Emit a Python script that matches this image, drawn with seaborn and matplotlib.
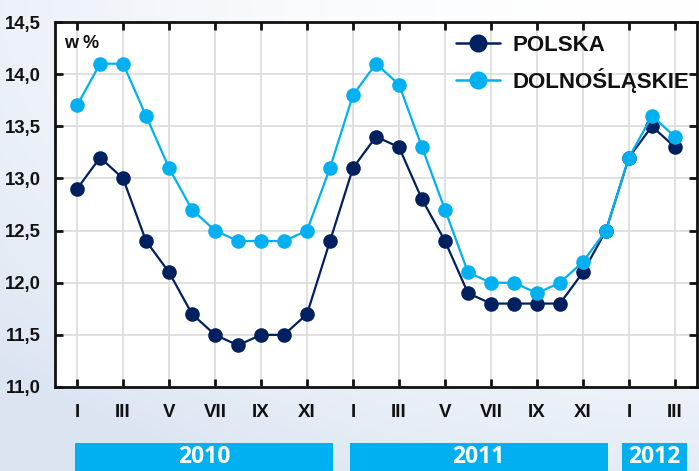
import numpy as np
import pandas as pd
import matplotlib
matplotlib.use("Agg")
import matplotlib.pyplot as plt
import matplotlib.transforms as mtransforms
from matplotlib.patches import Rectangle
from matplotlib.lines import Line2D
import seaborn as sns

# ---- data ----
months = ["I", "II", "III", "IV", "V", "VI", "VII", "VIII", "IX", "X", "XI", "XII"] * 2 + ["I", "II", "III"]
polska = [12.9, 13.2, 13.0, 12.4, 12.1, 11.7, 11.5, 11.4, 11.5, 11.5, 11.7, 12.4,
          13.1, 13.4, 13.3, 12.8, 12.4, 11.9, 11.8, 11.8, 11.8, 11.8, 12.1, 12.5,
          13.2, 13.5, 13.3]
dolnoslaskie = [13.7, 14.1, 14.1, 13.6, 13.1, 12.7, 12.5, 12.4, 12.4, 12.4, 12.5, 13.1,
                13.8, 14.1, 13.9, 13.3, 12.7, 12.1, 12.0, 12.0, 11.9, 12.0, 12.2, 12.5,
                13.2, 13.6, 13.4]
series_names = ["POLSKA", "DOLNOŚLĄSKIE"]
years = ["2010", "2011", "2012"]
y_ticks = [11.0, 11.5, 12.0, 12.5, 13.0, 13.5, 14.0, 14.5]

# layout constants (month-index spans of the year bands)
year_spans = [(-0.09, 11.15), (11.85, 23.08), (23.69, 26.52)]

colors = {"POLSKA": "#002060", "DOLNOŚLĄSKIE": "#00b0f0"}

idx = np.arange(len(months))
df = pd.DataFrame({
    "t": np.concatenate([idx, idx]),
    "value": polska + dolnoslaskie,
    "series": [series_names[0]] * len(idx) + [series_names[1]] * len(idx),
})

sns.set_theme(style="white")
plt.rcParams["font.family"] = ["Liberation Sans", "DejaVu Sans"]

W, H = 699, 471
fig = plt.figure(figsize=(W / 100, H / 100), dpi=100)

# background gradient
bg = fig.add_axes([0, 0, 1, 1], zorder=-10)
xx, yy = np.meshgrid(np.linspace(0, 1, 200), np.linspace(0, 1, 200))
t = np.clip(0.55 * (1 - xx) ** 2 + 0.75 * yy ** 2, 0, 1)
c0 = np.array([1.0, 1.0, 1.0])
c1 = np.array([0.86, 0.90, 0.95])
img = c0[None, None, :] * (1 - t[..., None]) + c1[None, None, :] * t[..., None]
bg.imshow(img, aspect="auto", extent=[0, 1, 0, 1], origin="upper")
bg.axis("off")

ax = fig.add_axes([55 / W, 1 - 387 / H, (697 - 55) / W, (387 - 22) / H])
ax.set_facecolor("white")

sns.lineplot(data=df, x="t", y="value", hue="series", palette=colors,
             marker="o", markersize=10.5, markeredgewidth=0, linewidth=1.6,
             ax=ax, legend=False, zorder=3)

ax.set_xlim(-0.96, 26.96)
ax.set_ylim(11.0, 14.5)
ax.set_xticks(idx[::2])
ax.set_xticklabels(months[::2])
ax.set_yticks(y_ticks)
ax.set_yticklabels([f"{v:.1f}".replace(".", ",") for v in y_ticks])
ax.set_xlabel("")
ax.set_ylabel("")
ax.grid(True, color="#dcdcdc", linewidth=1.2)
ax.set_axisbelow(True)
for s in ax.spines.values():
    s.set_visible(True)
    s.set_color("#111111")
    s.set_linewidth(2)
ax.tick_params(axis="both", which="both", direction="in", length=6, width=2,
               color="#111111", top=True, right=True, bottom=True, left=True)
ax.tick_params(axis="y", labelsize=13.3, pad=10, labelcolor="#111111")
ax.tick_params(axis="x", labelsize=13.5, pad=12, labelcolor="#111111")
for lab in ax.get_yticklabels() + ax.get_xticklabels():
    lab.set_fontweight("bold")

ax.text(64 / W, 1 - 43 / H, "w %", transform=fig.transFigure, fontsize=13,
        fontweight="bold", va="center", ha="left", color="#111111")

# legend
handles = [Line2D([0], [0], color=colors[n], marker="o", markersize=13,
                  markeredgewidth=0, linewidth=1.8) for n in series_names]
leg = fig.legend(handles, series_names, loc="upper left",
                 bbox_to_anchor=(456 / W, 1 - 35 / H),
                 frameon=False, prop={"weight": "bold", "size": 16},
                 handlelength=2.0, handletextpad=0.55, labelspacing=0.55,
                 borderpad=0, borderaxespad=0)
for txt in leg.get_texts():
    txt.set_color("#111111")

# year bands
trans = mtransforms.blended_transform_factory(ax.transData, fig.transFigure)
for (x0, x1), yr in zip(year_spans, years):
    fig.patches.append(Rectangle((x0, 0), x1 - x0, (471 - 443) / H, transform=trans,
                                 facecolor="#00b0f0", edgecolor="none", zorder=1))
    fig.text((x0 + x1) / 2, 2 / H, yr, transform=trans, ha="center", va="bottom",
             fontsize=16.5, fontweight="bold", color="white",
             family=["Open Sans", "DejaVu Sans"], zorder=2)

fig.savefig("out.png", dpi=100)
